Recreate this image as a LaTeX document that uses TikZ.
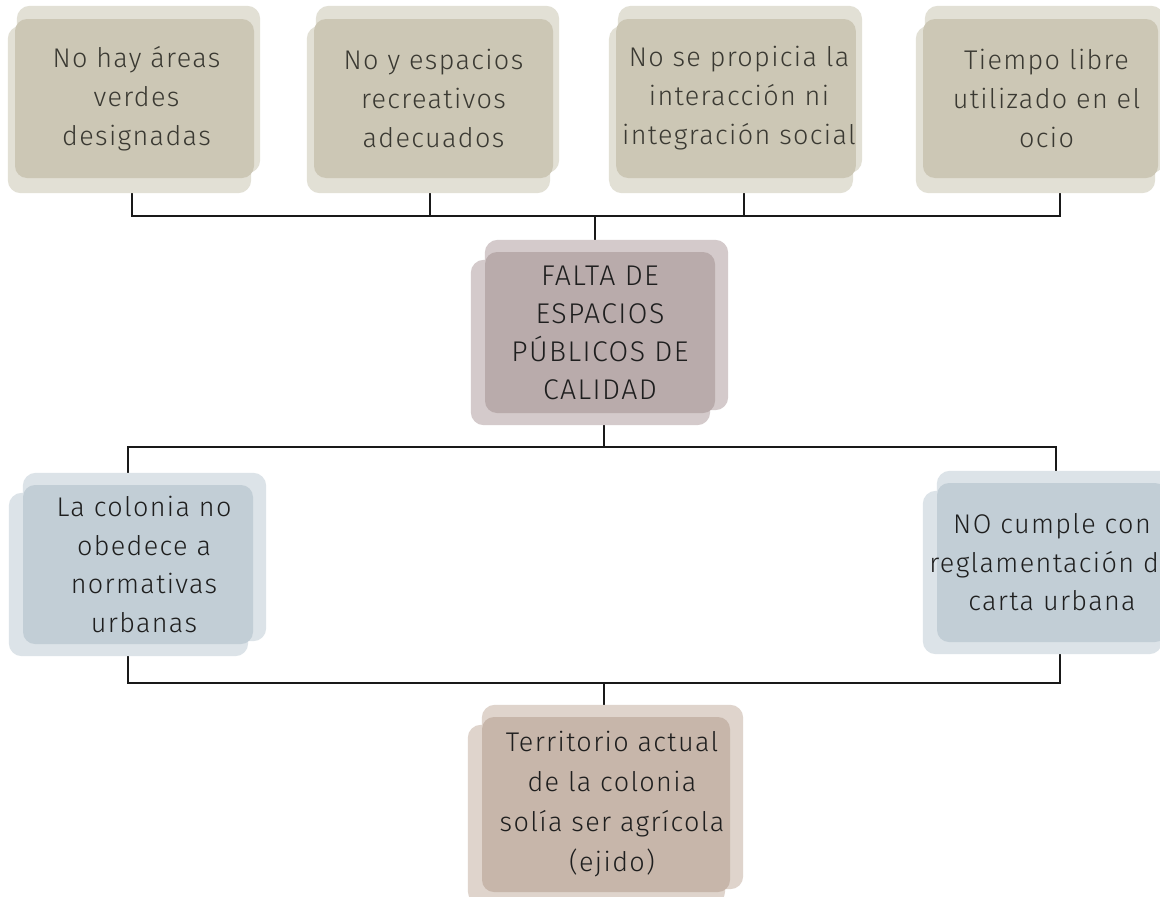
\documentclass[tikz,border=0pt]{standalone}
\usepackage{fontspec}
\setmainfont{Fira Sans Light}[LetterSpace=5]
\pgfdeclarelayer{back}
\pgfdeclarelayer{conn}
\pgfdeclarelayer{bg}
\pgfsetlayers{back,conn,bg,main}
\definecolor{topF}{RGB}{204,199,181}
\definecolor{topL}{RGB}{226,224,213}
\definecolor{cenF}{RGB}{185,171,171}
\definecolor{cenL}{RGB}{212,202,203}
\definecolor{sidF}{RGB}{194,206,214}
\definecolor{sidL}{RGB}{220,227,232}
\definecolor{botF}{RGB}{199,182,170}
\definecolor{botL}{RGB}{223,212,204}
\definecolor{txtTop}{RGB}{58,57,50}
\definecolor{txtDark}{RGB}{30,30,30}
\newcommand\halotop[2]{%
 \begin{pgfonlayer}{bg}
 \fill[#2, rounded corners=13pt] ([shift={(2pt,13pt)}]#1.north west) rectangle ([shift={(6pt,5pt)}]#1.south east);
 \fill[#2, rounded corners=13pt] ([shift={(-7pt,-7pt)}]#1.north west) rectangle ([shift={(-3pt,-15pt)}]#1.south east);
 \end{pgfonlayer}}
\newcommand\halomid[2]{%
 \begin{pgfonlayer}{bg}
 \fill[#2, rounded corners=13pt] ([shift={(0pt,12pt)}]#1.north west) rectangle ([shift={(13pt,3pt)}]#1.south east);
 \fill[#2, rounded corners=13pt] ([shift={(-14pt,-8pt)}]#1.north west) rectangle ([shift={(-5pt,-12pt)}]#1.south east);
 \end{pgfonlayer}}
\tikzset{
  front/.style={rounded corners=12pt, inner sep=0pt, align=center},
  toptext/.style={front, fill=topF, text=txtTop, minimum height=159pt, font=\fontsize{27}{39}\selectfont},
  cenbox/.style={front, fill=cenF, text=txtDark, minimum width=230pt, minimum height=161pt, font=\fontsize{28.5}{38}\selectfont},
  sidbox/.style={front, fill=sidF, text=txtDark, minimum width=230pt, minimum height=159pt, font=\fontsize{27}{38.5}\selectfont},
  botbox/.style={front, fill=botF, text=txtDark, minimum width=248pt, minimum height=175pt, font=\fontsize{27}{40}\selectfont},
  conline/.style={draw=black!90, line width=1.2pt},
}
\begin{document}
\begin{tikzpicture}[x=1pt,y=-1pt]
\useasboundingbox (0,0) rectangle (1160,897);
\begin{pgfonlayer}{back}
\fill[white] (0,0) rectangle (1160,897);
\end{pgfonlayer}

% top row
\node[toptext, minimum width=239pt] (t1) at (134.5,98.5) {\hspace*{4pt}No hay áreas\\\hspace*{4pt}verdes\\\hspace*{4pt}designadas};
\node[toptext, minimum width=239pt] (t2) at (433.5,98.5) {No y espacios\\recreativos\\adecuados};
\node[toptext, minimum width=236pt] (t3) at (736,98.5) {\hspace*{6pt}No se propicia la\\\hspace*{6pt}interacción ni\\\hspace*{6pt}integración social};
\node[toptext, minimum width=235pt] (t4) at (1040.5,98.5) {\hspace*{12pt}Tiempo libre\\\hspace*{12pt}utilizado en el\\\hspace*{12pt}ocio};
\halotop{t1}{topL}
\halotop{t2}{topL}
\halotop{t3}{topL}
\halotop{t4}{topL}

% centre
\node[cenbox] (c) at (600,332.5) {FALTA DE\\ESPACIOS\\PÚBLICOS DE\\CALIDAD};
\halomid{c}{cenL}

% sides
\node[sidbox] (l) at (138,564.5) {\hspace*{12pt}La colonia no\\\hspace*{12pt}obedece a\\\hspace*{12pt}normativas\\\hspace*{12pt}urbanas};
\halomid{l}{sidL}
\node[sidbox] (r) at (1052,562.5) {NO cumple con\\\makebox[200pt][c]{reglamentación de}\\carta urbana};
\halomid{r}{sidL}

% bottom
\node[botbox] (b) at (606,804.5) {\hspace*{12pt}Territorio actual\\\hspace*{12pt}de la colonia\\\hspace*{12pt}solía ser agrícola\\\hspace*{12pt}(ejido)};
\halomid{b}{botL}

\coordinate (jt) at (595,216);
\coordinate (jm) at (604,447);
\coordinate (jb) at (604,683);

\begin{pgfonlayer}{conn}
\draw[conline] ([xshift=-2.5pt]t1.south) |- (jt);
\draw[conline] ([xshift=-3.5pt]t2.south) |- (jt);
\draw[conline] ([xshift=8pt]t3.south) |- (jt);
\draw[conline] ([xshift=19.5pt]t4.south) |- (jt);
\draw[conline] (jt) -- (jt |- c.north);
\draw[conline] (jm |- c.south) -- (jm);
\draw[conline] (jm) -| ([xshift=-10pt]l.north);
\draw[conline] (jm) -| ([xshift=4pt]r.north);
\draw[conline] ([xshift=-10pt]l.south) |- (jb);
\draw[conline] ([xshift=8pt]r.south) |- (jb);
\draw[conline] (jb) -- (jb |- b.north);
\end{pgfonlayer}
\end{tikzpicture}
\end{document}
